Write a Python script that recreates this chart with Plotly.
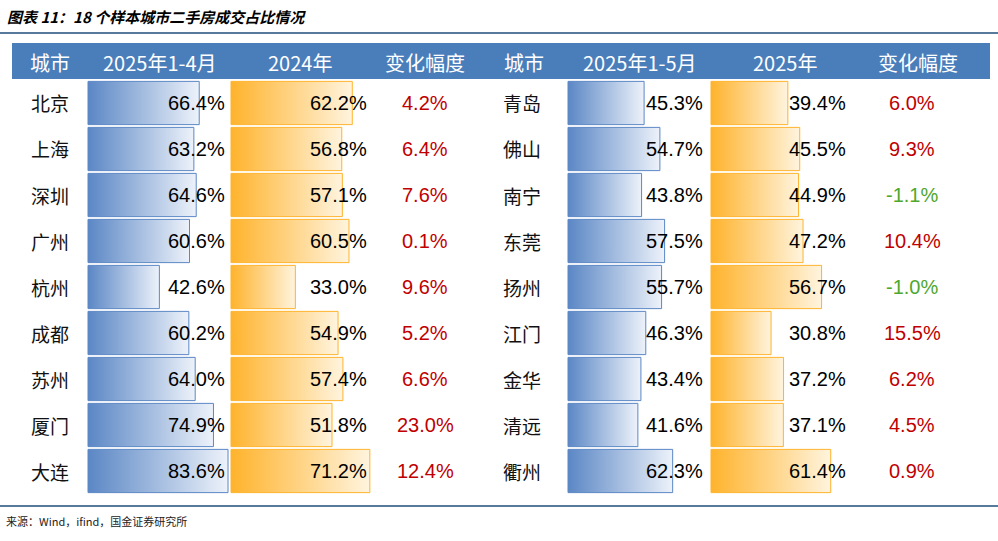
import plotly.graph_objects as go

W, H = 998, 541
cities_l = ["北京", "上海", "深圳", "广州", "杭州", "成都", "苏州", "厦门", "大连"]
v25_l = [66.4, 63.2, 64.6, 60.6, 42.6, 60.2, 64.0, 74.9, 83.6]
v24_l = [62.2, 56.8, 57.1, 60.5, 33.0, 54.9, 57.4, 51.8, 71.2]
chg_l = [4.2, 6.4, 7.6, 0.1, 9.6, 5.2, 6.6, 23.0, 12.4]
cities_r = ["青岛", "佛山", "南宁", "东莞", "扬州", "江门", "金华", "清远", "衢州"]
v25m_r = [45.3, 54.7, 43.8, 57.5, 55.7, 46.3, 43.4, 41.6, 62.3]
v25_r = [39.4, 45.5, 44.9, 47.2, 56.7, 30.8, 37.2, 37.1, 61.4]
chg_r = [6.0, 9.3, -1.1, 10.4, -1.0, 15.5, 6.2, 4.5, 0.9]
headers = ["城市", "2025年1-4月", "2024年", "变化幅度", "城市", "2025年1-5月", "2025年", "变化幅度"]
header_x = [50, 160, 300, 425, 524, 640, 785, 918]

TOP, RH = 80, 46
fig = go.Figure()

BLUE = ["#5B87C5", "#EDF2FA"]
ORNG = ["#FFB32C", "#FFF4DE"]
cols = [
    ("x", 88, 1.675, v25_l, BLUE),
    ("x2", 231, 1.95, v24_l, ORNG),
    ("x3", 568, 1.68, v25m_r, BLUE),
    ("x4", 711, 1.95, v25_r, ORNG),
]
for ax, x0, s, vals, c in cols:
    for i, v in enumerate(vals):
        y0, y1 = i + 0.03, i + 0.97
        fig.add_trace(go.Scatter(
            x=[0, v, v, 0, 0], y=[y0, y0, y1, y1, y0], xaxis=ax, yaxis="y",
            mode="lines", fill="toself", line=dict(color=c[0], width=1),
            fillgradient=dict(type="horizontal", colorscale=[[0, c[0]], [1, c[1]]]),
            hoverinfo="skip", showlegend=False))
    key = "xaxis" if ax == "x" else "xaxis" + ax[1:]
    fig.layout[key] = dict(domain=[0, 1], range=[-x0 / s, (W - x0) / s], visible=False,
                           fixedrange=True, **({} if ax == "x" else {"overlaying": "x"}))
fig.update_layout(yaxis=dict(domain=[0, 1], range=[(H - TOP) / RH, -TOP / RH], visible=False))

def px(x): return x / W
def py(y): return 1 - y / H

ann = []
shapes = [
    dict(type="rect", xref="paper", yref="paper", x0=px(12), x1=px(990), y0=py(43), y1=py(79),
         fillcolor="#4A7EBB", line=dict(width=0), layer="below"),
    dict(type="line", xref="paper", yref="paper", x0=0, x1=1, y0=py(33), y1=py(33),
         line=dict(color="#1F4E79", width=1.5)),
    dict(type="line", xref="paper", yref="paper", x0=0, x1=1, y0=py(506), y1=py(506),
         line=dict(color="#1F4E79", width=1.5)),
]
def A(text, x, y, font, xanchor="center"):
    ann.append(dict(text=text, x=px(x), y=py(y), xref="paper", yref="paper", showarrow=False,
                    xanchor=xanchor, yanchor="middle", font=font))
for h, x in zip(headers, header_x):
    A(h, x, 62, dict(family="Noto Sans CJK SC", size=20, color="white"))
VF = "Liberation Sans, Arial"
def row(i, city, a, b, c, cx, ax_, bx, chx):
    yc = TOP + RH * i + 23
    A(city, cx, yc, dict(family="Noto Sans CJK SC", size=19, color="#111"))
    for v, xr in ((a, ax_), (b, bx)):
        A(f"{v:.1f}%", xr, yc, dict(family=VF, size=20, color="black"), "right")
    A(f"{c:.1f}%", chx, yc, dict(family=VF, size=20, color="#C00000" if c >= 0 else "#4EA72E"))
for i in range(9):
    row(i, cities_l[i], v25_l[i], v24_l[i], chg_l[i], 50, 227, 369, 425)
    row(i, cities_r[i], v25m_r[i], v25_r[i], chg_r[i], 522, 705, 848, 912)

A("<b><i>图表 11：18 个样本城市二手房成交占比情况</i></b>", 5, 16,
  dict(family="Noto Sans CJK SC", size=15, color="black"), "left")
A("来源：Wind，ifind，国金证券研究所", 4, 521,
  dict(family="Noto Sans CJK SC", size=11, color="#222"), "left")

fig.update_layout(width=W, height=H, margin=dict(l=0, r=0, t=0, b=0),
                  paper_bgcolor="white", plot_bgcolor="white",
                  annotations=ann, shapes=shapes, showlegend=False)
fig.write_html("out.html", config={"displayModeBar": False},
               post_script="document.body.style.margin='0';document.body.style.overflow='hidden';")
